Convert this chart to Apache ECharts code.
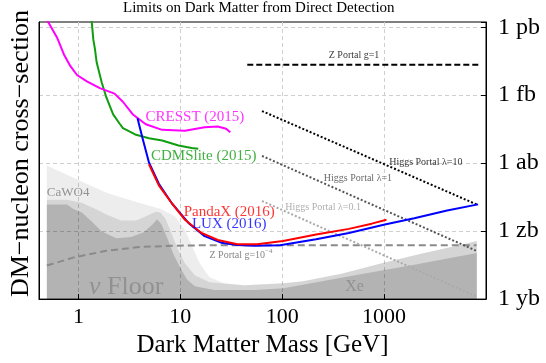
<!DOCTYPE html>
<html>
<head>
<meta charset="utf-8">
<script src="https://cdn.jsdelivr.net/npm/echarts@6/dist/echarts.min.js"></script>
<style>
  html, body { margin: 0; padding: 0; background: #fff; }
  #chart { width: 546px; height: 363px; }
</style>
</head>
<body>
<div id="chart"></div>
<script>
// mass in GeV, cross section as log10(sigma / cm^2)
const cresstMass = [0.48, 0.62, 0.72, 0.834, 0.967, 1.21, 1.62, 2.26, 2.73, 3.40, 4.58, 6.63, 11.1, 17.3, 23.3, 28.1, 30.9]
const cresstSigma = [-35.6, -36.48, -37.2, -37.72, -38.11, -38.39, -38.69, -38.93, -39.29, -39.84, -40.28, -40.53, -40.57, -40.42, -40.38, -40.48, -40.64]

const cdmsMass = [1.34, 1.40, 1.45, 1.51, 1.69, 1.88, 2.19, 2.53, 2.73, 3.16, 3.67, 4.92, 6.63, 9.6, 12.9, 15.0]
const cdmsSigma = [-35.6, -36.55, -36.95, -37.56, -38.43, -39.1, -39.85, -40.25, -40.45, -40.6, -40.75, -40.9, -41.0, -41.22, -41.33, -41.36]

const luxMass = [3.80, 4.25, 4.92, 6.15, 8.28, 12.0, 17.3, 25.1, 36.3, 52.6, 95.2, 215, 451, 1016, 1977, 4150, 8370]
const luxSigma = [-40.02, -40.89, -41.97, -42.91, -43.78, -44.64, -45.22, -45.51, -45.61, -45.65, -45.62, -45.36, -45.08, -44.71, -44.43, -44.09, -43.82]

const pandaxMass = [4.92, 6.15, 8.28, 11.1, 16.1, 23.3, 36.3, 56.6, 102, 215, 451, 755, 1055]
const pandaxSigma = [-42.05, -42.98, -43.78, -44.50, -45.08, -45.39, -45.58, -45.58, -45.44, -45.15, -44.90, -44.67, -44.50]

const zPortal1Mass = [45.4, 8690]
const zPortal1Sigma = [-37.66, -37.66]
const higgs10Mass = [63.3, 8370]
const higgs10Sigma = [-39.70, -43.85]
const higgs1Mass = [63.3, 8070]
const higgs1Sigma = [-41.68, -45.87]
const higgs01Mass = [63.3, 8070]
const higgs01Sigma = [-43.67, -47.89]
const zPortal4Mass = [0.49, 0.90, 1.88, 3.94, 8.28, 17.3, 8070]
const zPortal4Sigma = [-46.52, -46.16, -45.87, -45.70, -45.65, -45.62, -45.62]

// neutrino floor, three overlapping bands
const floor1Mass = [0.489, 0.905, 1.883, 3.918, 6.386, 8.911, 11.13, 13.3, 15.52, 19.38, 27.0, 42.2, 102.5, 159.8, 388, 1009, 2295, 5577, 8135]
const floor1Sigma = [-42.10, -42.66, -43.31, -43.75, -44.01, -44.35, -44.96, -45.74, -46.43, -47.04, -47.30, -47.39, -47.30, -47.21, -46.87, -46.39, -46.00, -45.61, -45.44]
const floor2Mass = [0.489, 0.774, 1.081, 1.508, 1.883, 2.627, 3.666, 4.78, 5.715, 6.386, 7.136, 7.973, 9.314, 11.13, 13.89, 19.38, 42.2, 102.5, 159.8, 388, 1009, 2295, 5577, 8135]
const floor2Sigma = [-43.62, -43.62, -43.75, -44.05, -44.27, -44.53, -44.53, -44.31, -44.14, -44.18, -44.44, -44.96, -45.74, -46.43, -46.95, -47.26, -47.39, -47.30, -47.21, -46.87, -46.39, -46.00, -45.61, -45.44]
const floor3Mass = [0.489, 0.774, 0.885, 1.081, 1.349, 1.685, 2.351, 3.281, 4.38, 5.35, 5.91, 6.53, 7.46, 8.52, 9.956, 11.63, 13.89, 21.66, 52.6, 102.5, 518, 2295, 8135]
const floor3Sigma = [-43.83, -43.83, -44.01, -44.18, -44.57, -45.00, -45.31, -45.26, -45.05, -44.70, -44.48, -44.70, -45.31, -46.00, -46.61, -47.13, -47.43, -47.60, -47.60, -47.52, -46.95, -46.43, -45.96]

const xTickValues = [1, 10, 100, 1000]
const xTickLabels = ['1', '10', '100', '1000']
const yTickValues = [-48, -45, -42, -39, -36]
const yTickLabels = ['1 yb', '1 zb', '1 ab', '1 fb', '1 pb']

const serif = "'Liberation Serif', 'DejaVu Serif', serif"

// text notes, anchored at [mass, log sigma]
const notes = [
  { text: 'CRESST (2015)', at: [13.9, -39.97], color: '#ff00ff', size: 15 },
  { text: 'CDMSlite (2015)', at: [16.96, -41.69], color: '#109e10', size: 15 },
  { text: 'PandaX (2016)', at: [30.2, -44.18], color: '#ff0000', size: 15 },
  { text: 'LUX (2016)', at: [30.2, -44.68], color: '#0000ff', size: 15 },
  { text: 'Z Portal g=1', at: [507, -37.24], color: '#000', size: 10 },
  { text: 'Higgs Portal λ=10', at: [2565, -41.97], color: '#000', size: 10 },
  { text: 'Higgs Portal λ=1', at: [554, -42.65], color: '#444', size: 10 },
  { text: 'Higgs Portal λ=0.1', at: [252, -43.95], color: '#9a9a9a', size: 10 },
  { text: 'CaWO4', at: [0.792, -43.31], color: '#7a7a7a', size: 13 },
  { text: 'Xe', at: [512, -47.47], color: '#888', size: 16 }
]

function pairs(xs, ys) {
  return xs.map((x, i) => [x, ys[i]])
}

function curve(xs, ys, color, width, dash, z) {
  return {
    type: 'line',
    data: pairs(xs, ys),
    symbol: 'none',
    silent: true,
    z: z,
    lineStyle: { color: color, width: width, type: dash || 'solid', cap: 'butt' },
  }
}

function band(xs, ys, alpha) {
  return {
    type: 'line',
    data: pairs(xs, ys),
    symbol: 'none',
    silent: true,
    z: 1,
    lineStyle: { width: 0 },
    areaStyle: { color: 'rgba(0,0,0,' + alpha + ')', origin: 'start', opacity: 1 },
  }
}

const chart = echarts.init(document.getElementById('chart'))

const noteData = notes.map((n) => ({
  value: n.at,
  label: {
    show: true,
    position: 'inside',
    formatter: n.text,
    color: n.color,
    fontSize: n.size,
    fontFamily: serif,
  },
}))
noteData.push({
  value: [39.4, -46.09],
  label: {
    show: true,
    position: 'inside',
    formatter: '{a|Z Portal g=10}{b|−4}',
    rich: {
      a: { fontSize: 10, fontFamily: serif, color: '#666', lineHeight: 16 },
      b: { fontSize: 7, fontFamily: serif, color: '#666', lineHeight: 8, verticalAlign: 'top' },
    },
  },
})
noteData.push({
  value: [2.94, -47.47],
  label: {
    show: true,
    position: 'inside',
    formatter: '{i|ν}{r| Floor}',
    rich: {
      i: { fontSize: 26, fontFamily: serif, color: '#888', fontStyle: 'italic' },
      r: { fontSize: 26, fontFamily: serif, color: '#888' },
    },
  },
})

chart.setOption({
  animation: false,
  title: {
    text: 'Limits on Dark Matter from Direct Detection',
    left: 123,
    top: 1,
    padding: 0,
    textStyle: { fontFamily: serif, fontSize: 15, fontWeight: 'normal', color: '#000' },
  },
  grid: {
    left: 31,
    right: 60,
    top: 22,
    bottom: 60,
    show: true,
    borderColor: '#000',
    borderWidth: 1,
    backgroundColor: 'transparent',
  },
  xAxis: {
    type: 'log',
    logBase: 10,
    min: 0.41,
    max: 10000,
    name: 'Dark Matter Mass [GeV]',
    nameLocation: 'middle',
    nameGap: 32,
    nameTextStyle: { fontFamily: serif, fontSize: 25, color: '#000' },
    axisLine: { show: true, lineStyle: { color: '#000', width: 1 } },
    axisTick: { show: true, inside: true, length: 5, lineStyle: { color: '#000' } },
    axisLabel: {
      fontFamily: serif,
      fontSize: 22,
      color: '#000',
      margin: 7,
      showMinLabel: false,
      showMaxLabel: false,
      formatter: function (v) {
        const i = xTickValues.findIndex((t) => Math.abs(Math.log10(v) - Math.log10(t)) < 1e-6)
        return i < 0 ? '' : xTickLabels[i]
      },
    },
    splitLine: {
      show: true,
      showMinLine: false,
      showMaxLine: false,
      lineStyle: { color: '#cfcfcf', width: 1, type: [4, 3] },
    },
  },
  yAxis: [
    {
      type: 'value',
      position: 'right',
      min: -48,
      max: -35.77,
      interval: 3,
      axisLine: { show: true, lineStyle: { color: '#000', width: 1 } },
      axisTick: { show: true, inside: true, length: 5, lineStyle: { color: '#000' } },
      axisLabel: {
        fontFamily: serif,
        fontSize: 24,
        color: '#000',
        margin: 12,
        formatter: function (v) {
          const i = yTickValues.findIndex((t) => Math.abs(v - t) < 1e-6)
          return i < 0 ? '' : yTickLabels[i]
        },
      },
      splitLine: {
        show: true,
        showMinLine: false,
        showMaxLine: false,
        lineStyle: { color: '#cfcfcf', width: 1, type: [4, 3] },
      },
    },
    {
      type: 'value',
      position: 'left',
      min: -48,
      max: -35.77,
      name: 'DM−nucleon cross−section',
      nameLocation: 'middle',
      nameRotate: 90,
      nameGap: 5,
      nameTextStyle: { fontFamily: serif, fontSize: 26, color: '#000', padding: [0, 0, 0, 14] },
      axisLine: { show: true, lineStyle: { color: '#000', width: 1 } },
      axisTick: { show: false },
      axisLabel: { show: false },
      splitLine: { show: false },
    },
  ],
  series: [
    band(floor1Mass, floor1Sigma, 0.07),
    band(floor2Mass, floor2Sigma, 0.1),
    band(floor3Mass, floor3Sigma, 0.16),
    curve(zPortal4Mass, zPortal4Sigma, '#8a8a8a', 2, [7, 4], 3),
    curve(higgs01Mass, higgs01Sigma, '#aaaaaa', 2, [2, 2], 3),
    curve(higgs1Mass, higgs1Sigma, '#555555', 2, [2, 2], 3),
    curve(higgs10Mass, higgs10Sigma, '#000000', 2, [2, 2], 3),
    curve(zPortal1Mass, zPortal1Sigma, '#000000', 2, [6, 3], 3),
    curve(cdmsMass, cdmsSigma, '#109e10', 2, null, 4),
    curve(cresstMass, cresstSigma, '#ff00ff', 2, null, 4),
    curve(luxMass, luxSigma, '#0000ff', 2, null, 5),
    curve(pandaxMass, pandaxSigma, '#ff0000', 2, null, 5),
    {
      type: 'scatter',
      data: noteData,
      symbolSize: 1,
      silent: true,
      z: 6,
      itemStyle: { color: 'rgba(0,0,0,0)' },
    },
  ],
})
</script>
</body>
</html>
